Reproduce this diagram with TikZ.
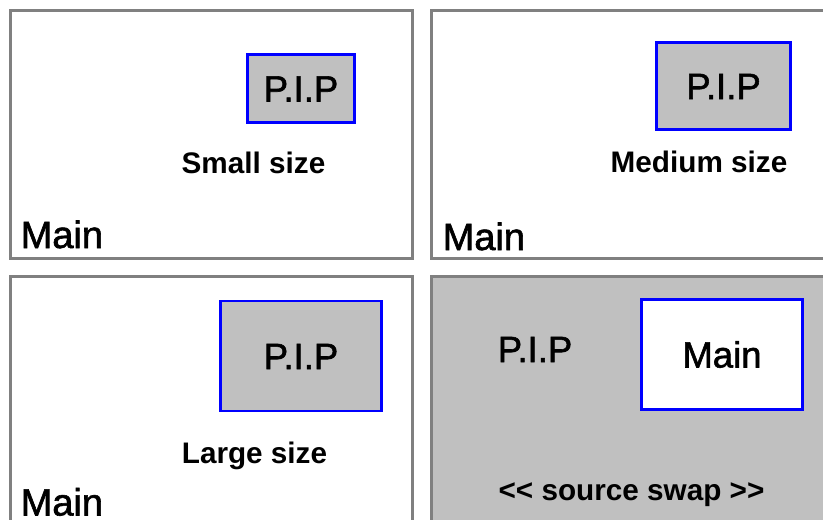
\documentclass[tikz,border=0pt]{standalone}
\usepackage{fontspec}
\setmainfont{Liberation Sans}
\newfontfamily\heavyfont[FakeBold=1.6]{Liberation Sans}
\definecolor{frame}{HTML}{808080}
\definecolor{pipgray}{HTML}{C0C0C0}
\begin{document}
\begin{tikzpicture}[x=1pt,y=-1pt,
  panel/.style={draw=frame,line width=3pt},
  pipbox/.style={draw=blue,line width=2.5pt,inner sep=0pt,text height=26pt,text depth=0pt,font=\heavyfont\fontsize{36.5}{40}\selectfont},
  mainlbl/.style={anchor=base west,inner sep=0pt,font=\heavyfont\fontsize{38}{42}\selectfont},
  sizelbl/.style={anchor=base,inner sep=0pt,font=\fontsize{29.7}{34}\selectfont\bfseries}]
\useasboundingbox (0,0) rectangle (823,520);
\clip (0,0) rectangle (823,520);
% panels
\draw[panel] (10.5,10.5) rectangle (412.5,258.5);
\draw[panel] (431,10.5) rectangle (840,258.5);
\draw[panel] (10.5,276.7) rectangle (412.5,540);
\draw[panel,fill=pipgray] (431,276.7) rectangle (840,540);
% panel 1
\node[pipbox,fill=pipgray,minimum width=107pt,minimum height=68pt] (pip1) at (301,88.5) {P.I.P};
\node[sizelbl] (lbl1) at (253.5,173) {Small size};
\node[mainlbl] (main1) at (20.5,248) {Main};
% panel 2
\node[pipbox,fill=pipgray,minimum width=134pt,minimum height=87pt] (pip2) at (723.5,86) {P.I.P};
\node[sizelbl] (lbl2) at (699,172) {Medium size};
\node[mainlbl] (main2) at (442.5,250) {Main};
% panel 3
\node[pipbox,fill=pipgray,minimum width=161pt,minimum height=110pt] (pip3) at (301,356) {P.I.P};
\node[sizelbl] (lbl3) at (254.5,463) {Large size};
\node[mainlbl] (main3) at (20.5,515.5) {Main};
% panel 4
\node[pipbox,fill=white,minimum width=161pt,minimum height=110pt] (main4) at (722,354.5) {Main};
\node[anchor=base,inner sep=0pt,font=\heavyfont\fontsize{36.5}{40}\selectfont] (pip4) at (535,362) {P.I.P};
\node[sizelbl] (lbl4) at (631.5,500) {<{}< source swap >{}>};
\end{tikzpicture}
\end{document}
